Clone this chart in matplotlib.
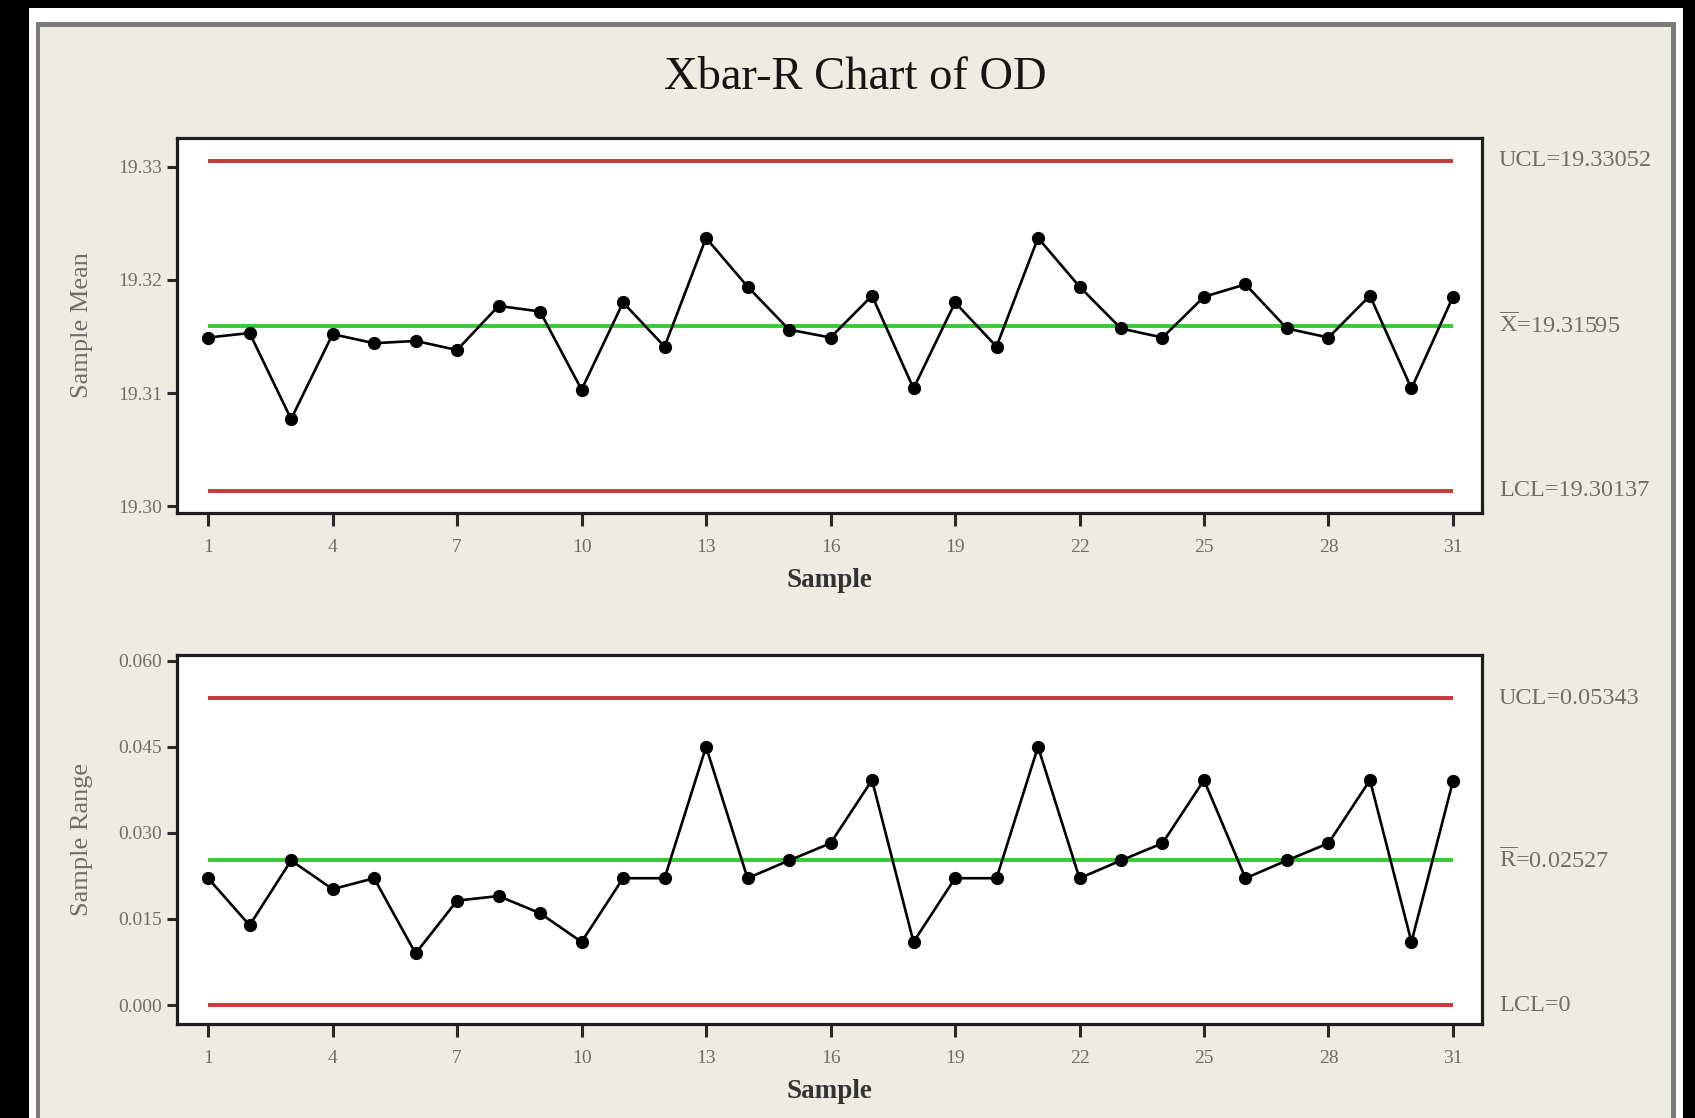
"""
Xbar-R control chart of OD, redrawn in the Minitab style.
"""

import matplotlib
matplotlib.use("Agg")
import matplotlib.pyplot as plt
from matplotlib.patches import Rectangle
from matplotlib.transforms import blended_transform_factory

# --- data ---
samples = list(range(1, 32))

sample_means = [
    19.3149, 19.3153, 19.3077, 19.3152, 19.3144, 19.3146, 19.3138, 19.3177,
    19.3172, 19.3103, 19.3180, 19.3141, 19.3237, 19.3194, 19.3156, 19.3149,
    19.3186, 19.3104, 19.3180, 19.3141, 19.3237, 19.3194, 19.3157, 19.3149,
    19.3185, 19.3196, 19.3157, 19.3149, 19.3186, 19.3104, 19.3185,
]

sample_ranges = [
    0.0221, 0.0139, 0.0252, 0.0202, 0.0221, 0.0090, 0.0182, 0.0190,
    0.0160, 0.0110, 0.0221, 0.0221, 0.0450, 0.0221, 0.0252, 0.0282,
    0.0392, 0.0110, 0.0221, 0.0221, 0.0450, 0.0221, 0.0252, 0.0282,
    0.0392, 0.0221, 0.0252, 0.0282, 0.0392, 0.0110, 0.0390,
]

xbar_limits = [19.33052, 19.31595, 19.30137]   # UCL, centre, LCL
xbar_labels = ["UCL=19.33052", r"$\overline{\mathrm{X}}$=19.31595", "LCL=19.30137"]
r_limits = [0.05343, 0.02527, 0.0]
r_labels = ["UCL=0.05343", r"$\overline{\mathrm{R}}$=0.02527", "LCL=0"]

x_ticks = [1, 4, 7, 10, 13, 16, 19, 22, 25, 28, 31]
xbar_ticks = [19.30, 19.31, 19.32, 19.33]
r_ticks = [0.000, 0.015, 0.030, 0.045, 0.060]

# --- styling ---
W, H = 1695, 1118
plt.rcParams["font.family"] = ["Liberation Serif", "DejaVu Serif"]
plt.rcParams["mathtext.fontset"] = "custom"
plt.rcParams["mathtext.rm"] = "Liberation Serif"

BEIGE = "#EEEBE2"
RED = "#C83838"
GREEN = "#33CC33"
GREY_TXT = "#6E6E6E"

fig = plt.figure(figsize=(W / 100, H / 100), dpi=100, facecolor="black")


def px_rect(x0, y0, x1, y1, color):
    """Rectangle given in image pixels (y measured from the top)."""
    fig.patches.append(Rectangle((x0 / W, 1 - y1 / H), (x1 - x0) / W, (y1 - y0) / H,
                                 transform=fig.transFigure, facecolor=color,
                                 edgecolor="none", zorder=-10))


# window frame: black surround, white edge, grey border, beige panel
px_rect(29, 8, 1683, H + 5, "white")
px_rect(36, 22, 1676, H + 5, "#7C7C7C")
px_rect(40, 27, 1671, H + 5, BEIGE)


def axes_px(left, top, right, bottom):
    return fig.add_axes([left / W, 1 - bottom / H, (right - left) / W, (bottom - top) / H])


ax1 = axes_px(177, 138, 1482, 513)
ax2 = axes_px(177, 655, 1482, 1024)


def draw_chart(ax, values, limits, labels, yticks, ylim, fmt, ylabel):
    ax.set_facecolor("white")
    # control limits span the samples
    ax.hlines([limits[0], limits[2]], samples[0], samples[-1], colors=RED, lw=2.8, zorder=2)
    ax.hlines(limits[1], samples[0], samples[-1], colors=GREEN, lw=2.8, zorder=2)
    ax.plot(samples, values, color="black", lw=1.9, marker="o", markersize=8.5, zorder=3)

    ax.set_xlim(0.25, 31.7)
    ax.set_ylim(*ylim)
    ax.set_xticks(x_ticks)
    ax.set_yticks(yticks)
    ax.set_yticklabels([fmt.format(v) for v in yticks])

    for side in ["top", "bottom", "left", "right"]:
        ax.spines[side].set_linewidth(2.3)
        ax.spines[side].set_color("#1E1E1E")
    ax.tick_params(axis="both", direction="out", width=2.2, color="#2A2A2A",
                   labelsize=14, labelcolor=GREY_TXT)
    ax.tick_params(axis="x", length=9, pad=10)
    ax.tick_params(axis="y", length=7, pad=4)

    ax.set_xlabel("Sample", fontsize=19.5, fontweight="bold", color="#333333", labelpad=8)
    ax.set_ylabel(ylabel, fontsize=19, color=GREY_TXT, labelpad=18)

    trans = blended_transform_factory(ax.transAxes, ax.transData)
    for val, txt in zip(limits, labels):
        ax.text(1.013, val, txt, transform=trans, ha="left", va="center",
                fontsize=17.5, color=GREY_TXT)


draw_chart(ax1, sample_means, xbar_limits, xbar_labels, xbar_ticks,
           (19.2994, 19.33253), "{:.2f}", "Sample Mean")
draw_chart(ax2, sample_ranges, r_limits, r_labels, r_ticks,
           (-0.0033, 0.061), "{:.3f}", "Sample Range")

fig.text(855 / W, 1 - 78 / H, "Xbar-R Chart of OD", ha="center", va="center",
         fontsize=33.5, color="#151515")

fig.savefig("out.png", dpi=100, facecolor=fig.get_facecolor())
